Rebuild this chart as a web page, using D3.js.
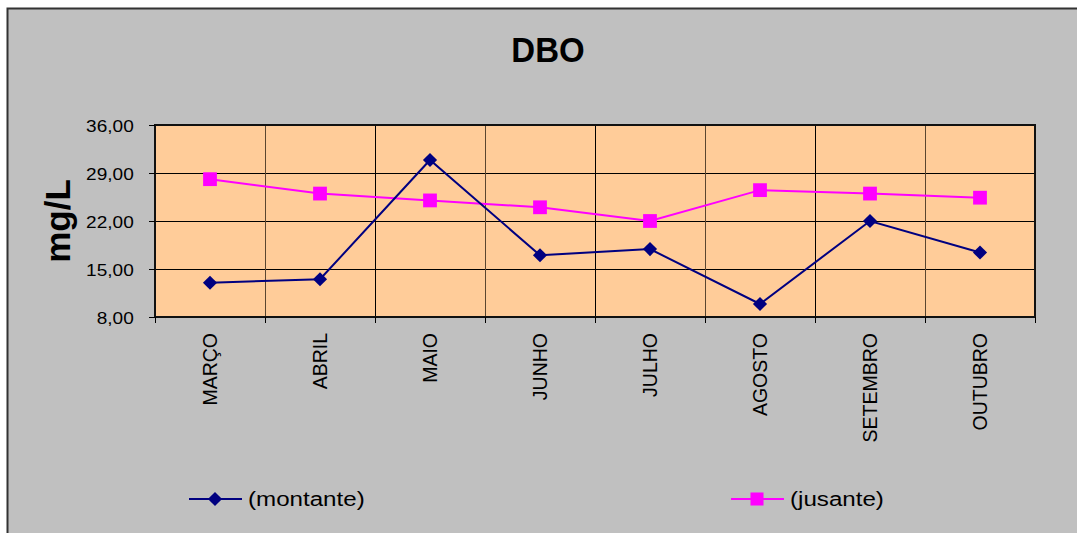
<!DOCTYPE html>
<html>
<head>
<meta charset="utf-8">
<script src="https://cdn.jsdelivr.net/npm/d3@7"></script>
<style>
  html, body { margin: 0; padding: 0; background: #fff; }
  svg { display: block; font-family: Arial, "Liberation Sans", sans-serif; }
</style>
</head>
<body>
<script>
var months = ["MARÇO", "ABRIL", "MAIO", "JUNHO", "JULHO", "AGOSTO", "SETEMBRO", "OUTUBRO"];
var montante = [13.0, 13.5, 30.9, 17.0, 17.9, 9.9, 22.0, 17.4];
var jusante = [28.1, 26.0, 25.0, 24.0, 22.0, 26.5, 26.0, 25.4];
var yTicks = [8, 15, 22, 29, 36];

var W = 1077, H = 533;
var plot = { left: 155, top: 125, right: 1035, bottom: 317 };

var svg = d3.select("body").append("svg")
  .attr("width", W)
  .attr("height", H);

// outer chart area
svg.append("rect")
  .attr("x", 7.5).attr("y", 8.5)
  .attr("width", W + 10).attr("height", H + 10)
  .attr("fill", "#c0c0c0")
  .attr("stroke", "#333")
  .attr("stroke-width", 2);

var x = d3.scaleBand()
  .domain(months)
  .range([plot.left, plot.right]);

var y = d3.scaleLinear()
  .domain([8, 36])
  .range([plot.bottom, plot.top]);

svg.append("rect")
  .attr("x", plot.left).attr("y", plot.top)
  .attr("width", plot.right - plot.left)
  .attr("height", plot.bottom - plot.top)
  .attr("fill", "#ffcc99");

// horizontal grid
svg.selectAll(".hgrid")
  .data(yTicks.slice(1, -1))
  .enter().append("line")
  .attr("class", "hgrid")
  .attr("x1", plot.left).attr("x2", plot.right)
  .attr("y1", function (d) { return Math.round(y(d)) + 0.5; })
  .attr("y2", function (d) { return Math.round(y(d)) + 0.5; })
  .attr("stroke", "#000")
  .attr("stroke-width", 1);

// vertical grid at category boundaries
svg.selectAll(".vgrid")
  .data(months.slice(1))
  .enter().append("line")
  .attr("class", "vgrid")
  .attr("x1", function (d) { return Math.round(x(d)) + 0.5; })
  .attr("x2", function (d) { return Math.round(x(d)) + 0.5; })
  .attr("y1", plot.top).attr("y2", plot.bottom)
  .attr("stroke", function (d, i) { return i % 2 == 0 ? "#5a4630" : "#000"; })
  .attr("stroke-width", 1);

// plot border
svg.append("rect")
  .attr("x", plot.left).attr("y", plot.top)
  .attr("width", plot.right - plot.left)
  .attr("height", plot.bottom - plot.top)
  .attr("fill", "none")
  .attr("stroke", "#111")
  .attr("stroke-width", 2);

// y axis
var yAxis = d3.axisLeft(y)
  .tickValues(yTicks)
  .tickSize(6)
  .tickPadding(13)
  .tickFormat(function (d) { return d3.format(".2f")(d).replace(".", ","); });

var gy = svg.append("g")
  .attr("transform", "translate(" + plot.left + ",0)")
  .call(yAxis);
gy.select(".domain").remove();
gy.selectAll("line").attr("stroke", "#000");
gy.selectAll("text")
  .attr("font-size", 17)
  .attr("font-family", "Arial, 'Liberation Sans', sans-serif")
  .attr("fill", "#000")
  .attr("dy", "0.36em")
  .attr("transform", "scale(1.12,1)");

// x axis ticks at boundaries
var bounds = months.map(function (m) { return x(m); }).concat([plot.right]);
svg.selectAll(".xtick")
  .data(bounds)
  .enter().append("line")
  .attr("x1", function (d) { return Math.round(d) + 0.5; })
  .attr("x2", function (d) { return Math.round(d) + 0.5; })
  .attr("y1", plot.bottom).attr("y2", plot.bottom + 6)
  .attr("stroke", "#000");

svg.selectAll(".xlabel")
  .data(months)
  .enter().append("text")
  .attr("transform", function (d) {
    return "translate(" + (x(d) + x.bandwidth() / 2 + 7) + "," + 333 + ") rotate(-90)";
  })
  .attr("text-anchor", "end")
  .attr("font-size", 19.5)
  .attr("fill", "#000")
  .text(function (d) { return d; });

// title
svg.append("text")
  .attr("transform", "translate(548,62) scale(1,1.05)")
  .attr("text-anchor", "middle")
  .attr("font-size", 33)
  .attr("font-weight", "bold")
  .text("DBO");

// y label
svg.append("text")
  .attr("transform", "translate(70,221) rotate(-90)")
  .attr("text-anchor", "middle")
  .attr("font-size", 35)
  .attr("font-weight", "bold")
  .text("mg/L");

// series
var line = d3.line()
  .x(function (d, i) { return x(months[i]) + x.bandwidth() / 2; })
  .y(function (d) { return y(d); });

svg.append("path")
  .datum(jusante)
  .attr("d", line)
  .attr("fill", "none")
  .attr("stroke", "#ff00ff")
  .attr("stroke-width", 2);

svg.append("path")
  .datum(montante)
  .attr("d", line)
  .attr("fill", "none")
  .attr("stroke", "#000080")
  .attr("stroke-width", 2);

var diamond = d3.symbol().type(d3.symbolSquare).size(100);
var square = d3.symbol().type(d3.symbolSquare).size(190);

svg.selectAll(".jus")
  .data(jusante)
  .enter().append("path")
  .attr("d", square)
  .attr("transform", function (d, i) {
    return "translate(" + (x(months[i]) + x.bandwidth() / 2) + "," + y(d) + ")";
  })
  .attr("fill", "#ff00ff");

svg.selectAll(".mon")
  .data(montante)
  .enter().append("path")
  .attr("d", diamond)
  .attr("transform", function (d, i) {
    return "translate(" + (x(months[i]) + x.bandwidth() / 2) + "," + y(d) + ") rotate(45)";
  })
  .attr("fill", "#000080");

// legend
var legend = [
  { name: "(montante)", color: "#000080", sym: diamond, rot: 45, x: 189 },
  { name: "(jusante)", color: "#ff00ff", sym: d3.symbol().type(d3.symbolSquare).size(170), rot: 0, x: 731 }
];
var lg = svg.selectAll(".legend")
  .data(legend)
  .enter().append("g")
  .attr("transform", function (d) { return "translate(" + d.x + ",499)"; });
lg.append("line")
  .attr("x1", 0).attr("x2", 53)
  .attr("stroke", function (d) { return d.color; })
  .attr("stroke-width", 2);
lg.append("path")
  .attr("d", function (d) { return d.sym(); })
  .attr("transform", function (d) { return "translate(26,0) rotate(" + d.rot + ")"; })
  .attr("fill", function (d) { return d.color; });
lg.append("text")
  .attr("transform", "translate(59,7) scale(1.15,1)")
  .attr("font-size", 21)
  .text(function (d) { return d.name; });
</script>
</body>
</html>
